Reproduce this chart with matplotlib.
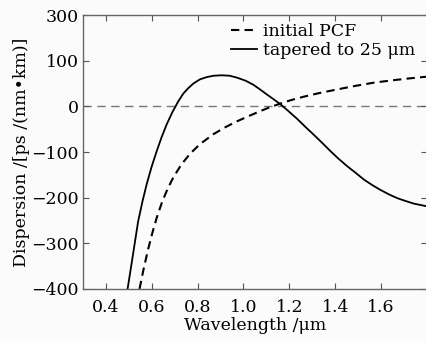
import matplotlib

matplotlib.use("Agg")
import matplotlib.pyplot as plt

# tapered to 25 um (solid)
taper_wl = [0.495, 0.52, 0.541, 0.56, 0.578, 0.60, 0.622, 0.643, 0.665, 0.69, 0.716,
            0.738, 0.76, 0.782, 0.81, 0.84, 0.87, 0.906, 0.94, 0.971, 1.01, 1.044,
            1.075, 1.102, 1.13, 1.16, 1.195, 1.233, 1.27, 1.306, 1.343, 1.379, 1.415,
            1.452, 1.49, 1.524, 1.56, 1.597, 1.635, 1.67, 1.705, 1.742, 1.8]
taper_d = [-400, -320, -252, -208, -171, -132, -98, -68, -40, -13, 11,
           28, 40, 50, 59, 64, 67, 68, 67, 63, 56, 47,
           36, 26, 16, 5, -10, -27, -45, -62, -80, -98, -115,
           -131, -146, -160, -172, -183, -193, -201, -207, -213, -219]

# initial PCF (dashed)
init_wl = [0.547, 0.565, 0.585, 0.603, 0.622, 0.645, 0.67, 0.695, 0.73, 0.767, 0.81,
           0.869, 0.92, 0.971, 1.02, 1.066, 1.11, 1.16, 1.21, 1.262, 1.33, 1.408,
           1.49, 1.57, 1.65, 1.72, 1.8]
init_d = [-400, -356, -312, -277, -244, -210, -180, -155, -127, -104, -83,
          -61, -46, -33, -22, -12, -3, 6, 14, 21, 29, 37,
          45, 52, 57, 61, 65]

x_ticks = [0.4, 0.6, 0.8, 1.0, 1.2, 1.4, 1.6]
y_ticks = [-400, -300, -200, -100, 0, 100, 200]
y_tick_labels = ["\u2212400", "\u2212300", "\u2212200", "\u2212100", "0", "100", "300"]

plt.rcParams["font.family"] = ["DejaVu Serif"]
plt.rcParams["font.size"] = 12.5
plt.rcParams["mathtext.fontset"] = "dejavuserif"

fig = plt.figure(figsize=(4.27, 3.41), dpi=100, facecolor="#fbfbfb")
ax = fig.add_axes([0.194, 0.1525, 0.806, 0.8035])
ax.set_facecolor("#fbfbfb")

ax.axhline(0, color="#777777", lw=1.0, ls=(0, (6, 4)), zorder=1)
ax.plot(init_wl, init_d, color="black", lw=1.5, ls=(0, (4, 2.5)), label="initial PCF")
ax.plot(taper_wl, taper_d, color="black", lw=1.3, label="tapered to 25 \u03bcm")

ax.set_xlim(0.3, 1.8)
ax.set_ylim(-400, 200)
ax.set_xticks(x_ticks)
ax.set_xticklabels([f"{v:.1f}" for v in x_ticks])
ax.set_yticks(y_ticks)
ax.set_yticklabels(y_tick_labels)
ax.tick_params(direction="in", top=True, right=True, length=4, color="#555555", pad=3)
ax.tick_params(axis="x", pad=7)
for sp in ax.spines.values():
    sp.set_color("#666666")
    sp.set_linewidth(1.0)

ax.set_xlabel("Wavelength /\u03bcm", labelpad=1)
ax.set_ylabel("Dispersion /[ps /(nm\u2022km)]", labelpad=1)

ax.legend(loc="upper right", bbox_to_anchor=(0.995, 1.008), frameon=False, handlelength=1.5,
          handletextpad=0.3, labelspacing=0.12, borderaxespad=0.2)

fig.savefig("out.png", dpi=100, facecolor=fig.get_facecolor())
